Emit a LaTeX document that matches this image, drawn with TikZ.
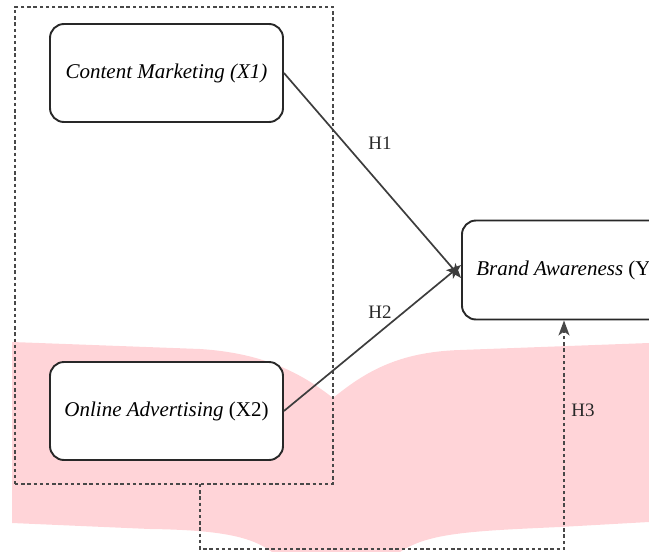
\documentclass[tikz,border=0pt]{standalone}
\usepackage{fontspec}
\setmainfont{Liberation Serif}
\usetikzlibrary{arrows.meta}
\definecolor{pinkbg}{RGB}{255,212,216}
\definecolor{ink}{RGB}{40,40,40}
\begin{document}
\begin{tikzpicture}[x=1pt,y=-1pt,
  varbox/.style={draw=ink, line width=1.9pt, fill=white, rounded corners=14pt,
    minimum width=233pt, minimum height=98pt, inner sep=0pt, font=\fontsize{21}{24}\selectfont},
  dashline/.style={draw=ink!85, line width=2pt, dash pattern=on 3.4pt off 2.8pt},
  headtip/.style={-{Stealth[length=15pt,width=11pt,inset=4pt]}},
  arr/.style={draw=ink!90, line width=1.7pt, headtip},
  hlab/.style={font=\fontsize{19}{22}\selectfont, text=ink}]
\useasboundingbox (0,0) rectangle (649,552);
% pink background band
\fill[pinkbg] (12,342) -- (200,349) .. controls (262,353) and (300,372) .. (333,398)
  .. controls (365,372) and (398,352) .. (460,350) -- (649,343) -- (649,522)
  -- (560,527) .. controls (470,531) and (428,533) .. (400,552) -- (272,552)
  .. controls (252,537) and (222,530) .. (150,529) -- (12,523) -- cycle;
% dashed group box
\node[dashline, minimum width=318pt, minimum height=477pt, inner sep=0pt] (grp) at (174,245.5) {};
% variable boxes
\node[varbox] (cm) at (166.5,73) {\itshape Content Marketing (X1)};
\node[varbox] (oa) at (166.5,411) {\itshape Online Advertising \upshape(X2)};
\node[varbox, minimum width=210pt, minimum height=99pt] (ba) at (567,270) {\itshape Brand Awareness \upshape(Y)};
% arrows
\draw[arr] (cm.east) -- ([yshift=-8pt]ba.west);
\draw[arr] (oa.east) -- ([yshift=5pt]ba.west);
\node[hlab] (h1) at (380,143) {H1};
\node[hlab] (h2) at (380,312) {H2};
% H3 dashed path
\coordinate (g3) at (200,484);
\coordinate (c1) at (200,549);
\coordinate (c2) at (564,549);
\draw[dashline, headtip] (g3) -- (c1) -- (c2) -- (ba.south -| c2);
\node[hlab] (h3) at (583,410) {H3};
\end{tikzpicture}
\end{document}
